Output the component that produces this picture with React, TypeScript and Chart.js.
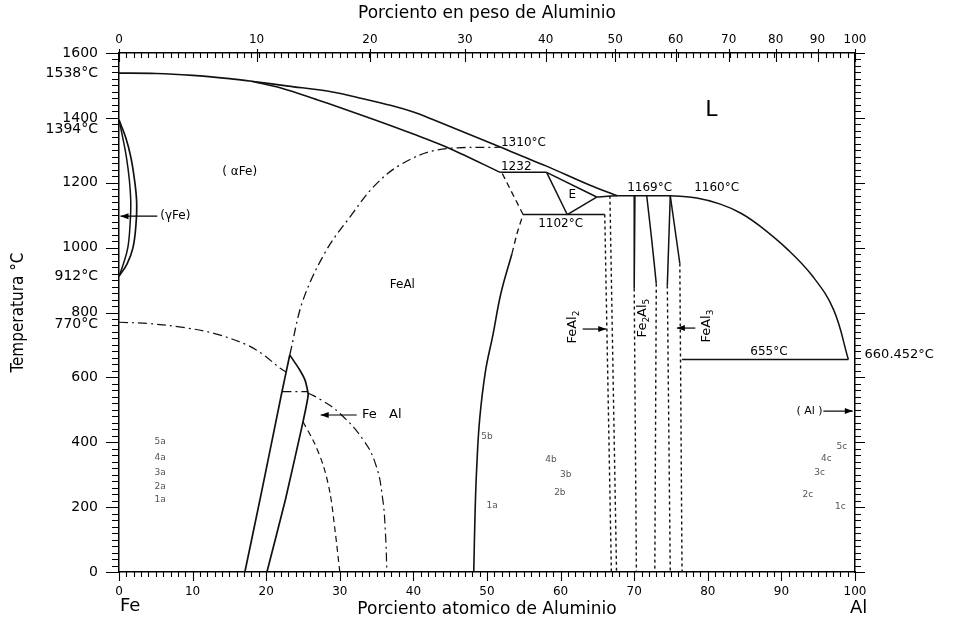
import React, { useEffect, useRef } from "react";
import { Chart, registerables } from "chart.js";

Chart.register(...registerables);

type Pt = [number, number];

// ---- axis tick values ----
const tempTicks = [0, 200, 400, 600, 800, 1000, 1200, 1400, 1600];
const atomicTicks = [0, 10, 20, 30, 40, 50, 60, 70, 80, 90, 100];
const weightTicks = [0, 10, 20, 30, 40, 50, 60, 70, 80, 90, 100];
const specialTemps = [1538, 1394, 912, 770];

// ---- phase boundaries (atomic % Al, °C) ----
const liquidusFe: Pt[] = [[0, 1538], [5, 1537], [10, 1531], [15, 1521], [18, 1513], [23, 1498], [29, 1480], [33, 1460], [37, 1438], [40, 1418], [42.3, 1398], [51.8, 1310], [58, 1252], [64, 1192], [67.7, 1160]];
const solidusFe: Pt[] = [[18, 1513], [22, 1492], [26.9, 1456], [30, 1432], [35, 1392], [40, 1350], [45, 1305], [51.8, 1232]];
const iso1232: Pt[] = [[51.8, 1232], [58.1, 1232]];
const epsUpper: Pt[] = [[58.1, 1232], [64.9, 1156]];
const epsLeft: Pt[] = [[58.1, 1232], [60.9, 1102]];
const epsRight: Pt[] = [[60.9, 1102], [64.9, 1156]];
const plateau1169: Pt[] = [[64.9, 1156], [67.7, 1160], [74.9, 1160]];
const liquidusAl: Pt[] = [[74.9, 1160], [78.5, 1153], [81.7, 1134], [84.5, 1106], [87.1, 1066], [90.9, 993], [94.3, 910], [97.1, 808], [99.1, 655]];
const iso655: Pt[] = [[76.5, 655], [99.1, 655]];
const iso1102: Pt[] = [[54.9, 1102], [66.0, 1102]];
const feAl2Left: Pt[] = [[66.0, 1102], [66.9, 0]];
const feAl2Right: Pt[] = [[66.7, 1160], [67.6, 0]];
const fe2Al5LeftSolid: Pt[] = [[70.1, 1160], [70.0, 874]];
const fe2Al5LeftDash: Pt[] = [[70.0, 874], [70.3, 0]];
const fe2Al5RightSolid: Pt[] = [[71.7, 1160], [72.4, 1020], [73.0, 889]];
const fe2Al5RightDash: Pt[] = [[73.0, 889], [72.8, 0]];
const feAl3LeftSolid: Pt[] = [[74.9, 1160], [74.5, 883]];
const feAl3LeftDash: Pt[] = [[74.5, 883], [74.9, 0]];
const feAl3RightSolid: Pt[] = [[74.9, 1160], [76.2, 951]];
const feAl3RightDash: Pt[] = [[76.2, 951], [76.5, 0]];
const b2Solid: Pt[] = [[48.2, 0], [48.4, 200], [48.6, 320], [49.0, 470], [49.8, 620], [50.8, 730], [51.9, 860], [53.4, 982]];
const b2DashLow: Pt[] = [[53.4, 982], [54.1, 1045], [54.9, 1102]];
const b2DashHigh: Pt[] = [[54.9, 1102], [52.0, 1232]];
const a2b2: Pt[] = [[23.2, 669], [25.0, 838], [28.2, 993], [31.4, 1095], [34.6, 1188], [38.2, 1255], [43.2, 1301], [51.8, 1310]];
const curieLeft: Pt[] = [[0, 770], [4, 766], [8.7, 754], [13, 735], [17.4, 700], [19.6, 670], [21.9, 628], [22.7, 617]];
const fe3AlCap: Pt[] = [[22.2, 556], [25.7, 556]];
const curieRight: Pt[] = [[25.7, 552], [27.5, 530], [30, 489], [33.2, 407], [34.9, 330], [35.8, 230], [36.2, 120], [36.4, 0]];
const fe3AlB2: Pt[] = [[25.0, 463], [26.5, 400], [27.8, 325], [28.7, 240], [29.4, 120], [30.0, 0]];
const fe3AlLeft: Pt[] = [[17.1, 0], [19.4, 250], [22.1, 551], [23.2, 669]];
const fe3AlRight: Pt[] = [[23.2, 669], [24.5, 625], [25.3, 590], [25.7, 546], [25.0, 463], [22.6, 222], [20.1, 0]];
const gammaOuter: Pt[] = [[0, 1394], [0.9, 1340], [1.6, 1280], [2.1, 1210], [2.4, 1140], [2.3, 1070], [1.9, 1000], [1.1, 950], [0, 912]];
const gammaInner: Pt[] = [[0, 1394], [0.5, 1340], [1.0, 1280], [1.4, 1210], [1.6, 1140], [1.5, 1070], [1.2, 1000], [0.6, 950], [0, 912]];

// ---- arrows: [from, to] ----
const arrowGamma: Pt[] = [[5.2, 1097], [0.2, 1097]];
const arrowFe3Al: Pt[] = [[32.3, 484], [27.4, 484]];
const arrowFeAl2: Pt[] = [[63.0, 749], [66.2, 749]];
const arrowFeAl3: Pt[] = [[78.3, 752], [75.8, 752]];
const arrowAl: Pt[] = [[95.7, 496], [99.7, 496]];

// ---- small grey index labels ----
const indexLabels: [string, number, number][] = [
  ["5a", 5.6, 401], ["4a", 5.6, 354], ["3a", 5.6, 305], ["2a", 5.6, 262], ["1a", 5.6, 222],
  ["5b", 50.0, 416], ["1a", 50.7, 206],
  ["4b", 58.7, 345], ["3b", 60.7, 299], ["2b", 59.9, 244],
  ["5c", 98.2, 385], ["4c", 96.1, 348], ["3c", 95.2, 305], ["2c", 93.6, 237], ["1c", 98.0, 200],
];

const FONT = '"DejaVu Sans", "Noto Sans", sans-serif';
const NARROW = '"Liberation Sans Narrow", "DejaVu Sans Condensed", "Roboto", sans-serif';

const AL_MASS = 26.98;
const FE_MASS = 55.845;
function wtToAt(w: number) {
  if (w <= 0) return 0;
  if (w >= 100) return 100;
  const nAl = w / AL_MASS;
  const nFe = (100 - w) / FE_MASS;
  return (100 * nAl) / (nAl + nFe);
}

type Part = [string, boolean];

function drawRich(ctx: CanvasRenderingContext2D, parts: Part[], x: number, y: number, size: number, rotate: boolean) {
  ctx.save();
  ctx.translate(x, y);
  if (rotate) ctx.rotate(-Math.PI / 2);
  const sub = Math.round(size * 0.72);
  let total = 0;
  const widths = parts.map(([t, s]) => {
    ctx.font = `${s ? sub : size}px ${FONT}`;
    const w = ctx.measureText(t).width;
    total += w;
    return w;
  });
  let cx = -total / 2;
  ctx.textBaseline = "middle";
  ctx.textAlign = "left";
  parts.forEach(([t, s], i) => {
    ctx.font = `${s ? sub : size}px ${FONT}`;
    ctx.fillText(t, cx, s ? size * 0.3 : 0);
    cx += widths[i];
  });
  ctx.restore();
}

const decor = {
  id: "decor",
  afterDraw(chart: any) {
    const { ctx, scales } = chart;
    const sx = scales.x;
    const sy = scales.y;
    const X = (v: number) => sx.getPixelForValue(v);
    const Y = (v: number) => sy.getPixelForValue(v);
    const left = X(0), right = X(100), top = Y(1600), bottom = Y(0);

    ctx.save();
    ctx.strokeStyle = "#000";
    ctx.fillStyle = "#000";
    ctx.lineWidth = 1.1;
    ctx.setLineDash([]);
    ctx.beginPath();
    for (let t = 0; t <= 1600; t += 20) {
      const y = Math.round(Y(t)) + 0.5;
      const major = t % 200 === 0;
      ctx.moveTo(left - (major ? 13 : 7), y);
      ctx.lineTo(left, y);
      ctx.moveTo(right, y);
      ctx.lineTo(right + (major ? 10 : 6), y);
    }
    for (let a = 0; a <= 100; a += 1) {
      const x = Math.round(X(a)) + 0.5;
      const major = a % 10 === 0;
      ctx.moveTo(x, bottom);
      ctx.lineTo(x, bottom + (major ? 9 : 5));
      ctx.moveTo(x, top);
      ctx.lineTo(x, top + 5);
    }
    for (const w of weightTicks) {
      const x = Math.round(X(wtToAt(w))) + 0.5;
      ctx.moveTo(x, top - 4);
      ctx.lineTo(x, top + 9);
    }
    ctx.stroke();

    // special temperature labels on left axis
    ctx.font = `14px ${FONT}`;
    ctx.textAlign = "right";
    ctx.textBaseline = "middle";
    const shift: Record<number, number> = { 1394: 10, 770: 2 };
    for (const t of specialTemps) {
      ctx.fillText(`${t}°C`, left - 21, Y(t) + (shift[t] || 0));
    }

    // element labels
    ctx.font = `18px ${FONT}`;
    ctx.textAlign = "left";
    ctx.fillText("Fe", left + 1, 606);
    ctx.fillText("Al", right - 5, 608);

    // phase + temperature labels
    const txt = (s: string, a: number, t: number, size: number, align: CanvasTextAlign = "center") => {
      ctx.font = `${size}px ${FONT}`;
      ctx.textAlign = align;
      ctx.textBaseline = "middle";
      ctx.fillText(s, X(a), Y(t));
    };
    txt("L", 80.5, 1424, 22);
    txt("( αFe)", 16.4, 1233, 12);
    txt("(γFe)", 5.6, 1097, 12, "left");
    txt("FeAl", 38.5, 885, 12);
    txt("Fe   Al", 33.0, 484, 13, "left");
    txt("E", 61.6, 1163, 12);
    txt("1310°C", 51.9, 1322, 12, "left");
    txt("1232", 51.9, 1250, 12, "left");
    txt("1102°C", 60.0, 1072, 12);
    txt("1169°C", 72.1, 1184, 12);
    txt("1160°C", 81.2, 1184, 12);
    txt("655°C", 88.3, 678, 12);
    txt("660.452°C", 101.3, 669, 13, "left");
    txt("( Al )", 95.6, 496, 11, "right");

    drawRich(ctx, [["FeAl", false], ["2", true]], X(61.7), Y(755), 13, true);
    drawRich(ctx, [["Fe", false], ["2", true], ["Al", false], ["5", true]], X(71.2), Y(783), 13, true);
    drawRich(ctx, [["FeAl", false], ["3", true]], X(79.8), Y(758), 13, true);

    // small index labels
    ctx.fillStyle = "#555";
    ctx.font = `9px ${FONT}`;
    ctx.textAlign = "center";
    for (const [s, a, t] of indexLabels) ctx.fillText(s, X(a), Y(t));

    // arrows
    ctx.fillStyle = "#000";
    ctx.strokeStyle = "#000";
    ctx.lineWidth = 1.2;
    for (const [[a0, t0], [a1, t1]] of [arrowGamma, arrowFe3Al, arrowFeAl2, arrowFeAl3, arrowAl]) {
      const x0 = X(a0), y0 = Y(t0), x1 = X(a1), y1 = Y(t1);
      const ang = Math.atan2(y1 - y0, x1 - x0);
      ctx.beginPath();
      ctx.moveTo(x0, y0);
      ctx.lineTo(x1, y1);
      ctx.stroke();
      ctx.beginPath();
      ctx.moveTo(x1, y1);
      ctx.lineTo(x1 - 8 * Math.cos(ang) + 3 * Math.sin(ang), y1 - 8 * Math.sin(ang) - 3 * Math.cos(ang));
      ctx.lineTo(x1 - 8 * Math.cos(ang) - 3 * Math.sin(ang), y1 - 8 * Math.sin(ang) + 3 * Math.cos(ang));
      ctx.closePath();
      ctx.fill();
    }
    ctx.restore();
  },
};

const SOLID: number[] = [];
const DASH = [6, 4];
const SHORT = [3, 3];
const DASHDOT = [9, 4, 2, 4];

export default function App() {
  const ref = useRef<HTMLCanvasElement>(null);

  useEffect(() => {
    const canvas = ref.current;
    if (!canvas) return;
    const curves: { pts: Pt[]; dash: number[]; t: number; w: number }[] = [
      { pts: liquidusFe, dash: SOLID, t: 0.3, w: 1.6 },
      { pts: solidusFe, dash: SOLID, t: 0.3, w: 1.6 },
      { pts: iso1232, dash: SOLID, t: 0, w: 1.5 },
      { pts: epsUpper, dash: SOLID, t: 0, w: 1.5 },
      { pts: epsLeft, dash: SOLID, t: 0, w: 1.5 },
      { pts: epsRight, dash: SOLID, t: 0, w: 1.5 },
      { pts: plateau1169, dash: SOLID, t: 0.2, w: 1.5 },
      { pts: liquidusAl, dash: SOLID, t: 0.4, w: 1.5 },
      { pts: iso655, dash: SOLID, t: 0, w: 1.5 },
      { pts: iso1102, dash: SOLID, t: 0, w: 1.5 },
      { pts: feAl2Left, dash: SHORT, t: 0, w: 1.4 },
      { pts: feAl2Right, dash: SHORT, t: 0, w: 1.4 },
      { pts: fe2Al5LeftSolid, dash: SOLID, t: 0, w: 1.5 },
      { pts: fe2Al5LeftDash, dash: SHORT, t: 0, w: 1.4 },
      { pts: fe2Al5RightSolid, dash: SOLID, t: 0.3, w: 1.5 },
      { pts: fe2Al5RightDash, dash: SHORT, t: 0, w: 1.4 },
      { pts: feAl3LeftSolid, dash: SOLID, t: 0, w: 1.5 },
      { pts: feAl3LeftDash, dash: SHORT, t: 0, w: 1.4 },
      { pts: feAl3RightSolid, dash: SOLID, t: 0, w: 1.5 },
      { pts: feAl3RightDash, dash: SHORT, t: 0, w: 1.4 },
      { pts: b2Solid, dash: SOLID, t: 0.4, w: 1.6 },
      { pts: b2DashLow, dash: DASH, t: 0.3, w: 1.3 },
      { pts: b2DashHigh, dash: DASH, t: 0, w: 1.3 },
      { pts: a2b2, dash: DASHDOT, t: 0.35, w: 1.3 },
      { pts: curieLeft, dash: DASHDOT, t: 0.35, w: 1.2 },
      { pts: fe3AlCap, dash: DASHDOT, t: 0, w: 1.2 },
      { pts: curieRight, dash: DASHDOT, t: 0.45, w: 1.2 },
      { pts: fe3AlB2, dash: DASH, t: 0.3, w: 1.2 },
      { pts: fe3AlLeft, dash: SOLID, t: 0.2, w: 1.7 },
      { pts: fe3AlRight, dash: SOLID, t: 0.15, w: 1.7 },
      { pts: gammaOuter, dash: SOLID, t: 0.4, w: 1.7 },
      { pts: gammaInner, dash: SOLID, t: 0.4, w: 1.5 },
    ];
    const datasets = curves.map((c) => ({
      data: c.pts.map(([x, y]) => ({ x, y })),
      showLine: true,
      borderColor: "#111",
      backgroundColor: "#111",
      borderWidth: c.w,
      borderDash: c.dash,
      pointRadius: 0,
      pointHoverRadius: 0,
      tension: c.t,
      fill: false,
      clip: false as any,
      xAxisID: "x",
      yAxisID: "y",
    }));

    const tickFont = (size: number) => ({ family: FONT, size });
    const plain = (v: any) => String(v);
    const chart = new Chart(canvas, {
      type: "scatter",
      data: { datasets },
      options: {
        animation: false,
        responsive: false,
        devicePixelRatio: 1,
        events: [],
        layout: { padding: 0 },
        plugins: { legend: { display: false }, tooltip: { enabled: false } },
        scales: {
          x: {
            type: "linear",
            position: "bottom",
            min: 0,
            max: 100,
            afterBuildTicks: (s: any) => {
              s.ticks = atomicTicks.map((v) => ({ value: v }));
            },
            ticks: { autoSkip: false, maxRotation: 0, color: "#000", font: tickFont(12), padding: 13, callback: plain },
            grid: { display: false, drawTicks: false },
            border: { display: true, color: "#000", width: 1.5 },
            title: { display: true, text: "Porciento atomico de Aluminio", color: "#000", font: { family: FONT, size: 17 }, padding: { top: 0, bottom: 5 } },
            afterFit: (s: any) => {
              s.height = 53;
            },
          },
          xTop: {
            type: "linear",
            position: "top",
            min: 0,
            max: 100,
            afterBuildTicks: (s: any) => {
              s.ticks = weightTicks.map((w) => ({ value: wtToAt(w) }));
            },
            ticks: {
              autoSkip: false,
              maxRotation: 0,
              color: "#000",
              font: tickFont(12),
              padding: 6,
              callback: (_v: any, i: number) => String(weightTicks[i]),
            },
            grid: { display: false, drawTicks: false },
            border: { display: true, color: "#000", width: 1.5 },
            title: { display: true, text: "Porciento en peso de Aluminio", color: "#000", font: { family: FONT, size: 17 }, padding: { top: 3, bottom: 0 } },
            afterFit: (s: any) => {
              s.height = 53;
            },
          },
          y: {
            type: "linear",
            position: "left",
            min: 0,
            max: 1600,
            afterBuildTicks: (s: any) => {
              s.ticks = tempTicks.map((v) => ({ value: v }));
            },
            ticks: { autoSkip: false, color: "#000", font: tickFont(14), padding: 21, callback: plain },
            grid: { display: false, drawTicks: false },
            border: { display: true, color: "#000", width: 1.5 },
            title: { display: true, text: "Temperatura °C", color: "#000", font: { family: NARROW, size: 17 }, padding: { top: 8, bottom: 0 } },
            afterFit: (s: any) => {
              s.width = 119;
            },
          },
          y2: {
            type: "linear",
            position: "right",
            min: 0,
            max: 1600,
            ticks: { display: false },
            grid: { display: false, drawTicks: false },
            border: { display: true, color: "#000", width: 1.5 },
            afterFit: (s: any) => {
              s.width = 103;
            },
          },
        },
      } as any,
      plugins: [decor],
    });
    return () => chart.destroy();
  }, []);

  return (
    <div style={{ position: "absolute", left: 0, top: 0, width: 958, height: 625, background: "#fff" }}>
      <canvas ref={ref} width={958} height={625} style={{ display: "block", width: 958, height: 625 }} />
    </div>
  );
}
